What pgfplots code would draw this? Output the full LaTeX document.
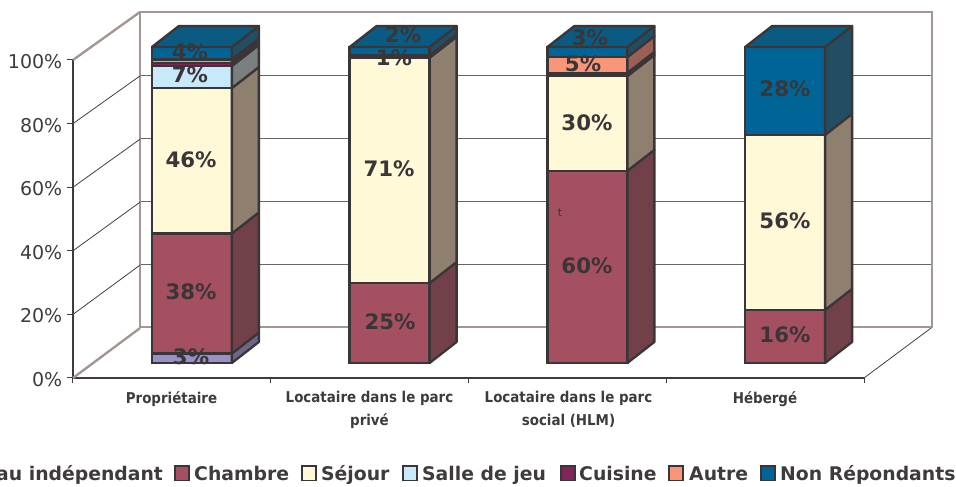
\documentclass[border=0pt]{standalone}
\usepackage{pgfplots}
\pgfplotsset{compat=1.18}
\usepackage{pgfplotstable}
\usepackage{fontspec}
\setmainfont{DejaVu Sans}
\newfontfamily\cond{DejaVu Sans Condensed}
\definecolor{ln}{HTML}{3A3638}
\definecolor{wall}{HTML}{A39793}
\definecolor{tk}{HTML}{3F3B3D}
\definecolor{cB}{HTML}{9A90C8}\definecolor{sB}{HTML}{6E6688}
\definecolor{cC}{HTML}{A55060}\definecolor{sC}{HTML}{724049}
\definecolor{cS}{HTML}{FFF9D8}\definecolor{sS}{HTML}{8F7F6E}
\definecolor{cJ}{HTML}{C8E9FA}\definecolor{sJ}{HTML}{7A7F7F}
\definecolor{cK}{HTML}{82245A}\definecolor{sK}{HTML}{5A2A48}
\definecolor{cA}{HTML}{FA9678}\definecolor{sA}{HTML}{9A6055}
\definecolor{cN}{HTML}{006496}\definecolor{sN}{HTML}{224E64}\definecolor{tN}{HTML}{0A5A82}
\pgfplotstableread{
x    bureau chambre sejour salle cuisine autre nr
0.5  3      38      46     7     1       1     4
1.5  0      25.3    71.3   0.7   0       0     2.7
2.5  0      60.8    30     0.5   0.5     5     3.2
3.5  0      16.8    55.4   0     0       0     27.8
}\bardata
% side face: category centre, lower and upper cumulative %, colour
\newcommand{\side}[4]{%
 \pgfmathsetmacro{\xa}{#1+0.2022}\pgfmathsetmacro{\xb}{#1+0.3387}%
 \pgfmathsetmacro{\ya}{#2+6.65}\pgfmathsetmacro{\yb}{#3+6.65}%
 \edef\temp{\noexpand\addplot[fill=#4,draw=ln,line width=2.3pt,line join=round] coordinates {(\xa,#2)(\xb,\ya)(\xb,\yb)(\xa,#3)(\xa,#2)};}\temp}
\newcommand{\topface}[1]{%
 \pgfmathsetmacro{\xa}{#1-0.2022}\pgfmathsetmacro{\xb}{#1-0.0657}\pgfmathsetmacro{\xc}{#1+0.3387}\pgfmathsetmacro{\xd}{#1+0.2022}%
 \edef\temp{\noexpand\addplot[fill=tN,draw=ln,line width=2.3pt,line join=round] coordinates {(\xa,100)(\xb,106.65)(\xc,106.65)(\xd,100)(\xa,100)};}\temp}
\newcommand{\dl}[3]{\node[font=\bfseries\fontsize{21.3}{24}\selectfont,text=ln,inner sep=0pt] at (axis cs:#1,#2) {#3\%};}
\begin{document}
\begin{tikzpicture}[x=1pt,y=1pt]
\useasboundingbox (0,0) rectangle (956,487);
\clip (0,0) rectangle (956,487);
% back wall
\begin{axis}[at={(140pt,160pt)},anchor=south west,scale only axis,width=792pt,height=315pt,
 xmin=0,xmax=4,ymin=0,ymax=100,xtick=\empty,ytick={20,40,60,80},ymajorgrids,
 major tick length=0pt,yticklabels={},
 grid style={draw=black!60,line width=0.8pt},
 axis line style={draw=wall,line width=2.4pt}]
\addplot[draw=none] coordinates {(0,0)(4,100)};
\end{axis}
% front plane: axes, ticks and oblique lines
\begin{axis}[at={(73pt,109pt)},anchor=south west,scale only axis,width=791pt,height=318pt,
 xmin=0,xmax=4,ymin=0,ymax=100,clip=false,
 axis lines=left,axis line style={draw=tk,line width=1.2pt,-},
 tick style={draw=tk,line width=1pt},
 ytick={0,20,40,60,80,100},
 yticklabel={\pgfmathprintnumber{\tick}\%},
 /pgf/number format/assume math mode=true,
 yticklabel style={font=\fontsize{19}{22}\selectfont\color{tk},inner sep=0pt,xshift=-5pt,yshift=-1.5pt},
 xtick={0,1,2,3,4},xticklabels={},
 tick align=outside,major tick length=5.5pt]
\addplot[draw=wall,line width=2.4pt] coordinates {(0,100)(0.339,115.1)};
\addplot[draw=wall,line width=2.4pt] coordinates {(0,0)(0.339,15.7)};
\addplot[draw=black!75,line width=0.8pt] coordinates {(0,20)(0.339,35.5)};
\addplot[draw=black!75,line width=0.8pt] coordinates {(0,40)(0.339,55.3)};
\addplot[draw=black!75,line width=0.8pt] coordinates {(0,60)(0.339,75.1)};
\addplot[draw=black!75,line width=0.8pt] coordinates {(0,80)(0.339,95)};
\addplot[draw=black!75,line width=0.8pt] coordinates {(4,0)(4.339,15.7)};
\end{axis}
% bars
\begin{axis}[at={(93pt,124pt)},anchor=south west,scale only axis,width=791pt,height=316pt,
 xmin=0,xmax=4,ymin=0,ymax=100,clip=false,hide axis,
 ybar stacked,bar width=80pt]
\addplot[fill=cB,draw=ln,line width=2.3pt] table[x=x,y=bureau]{\bardata};
\addplot[fill=cC,draw=ln,line width=2.3pt] table[x=x,y=chambre]{\bardata};
\addplot[fill=cS,draw=ln,line width=2.3pt] table[x=x,y=sejour]{\bardata};
\addplot[fill=cJ,draw=ln,line width=2.3pt] table[x=x,y=salle]{\bardata};
\addplot[fill=cK,draw=ln,line width=2.3pt] table[x=x,y=cuisine]{\bardata};
\addplot[fill=cA,draw=ln,line width=2.3pt] table[x=x,y=autre]{\bardata};
\addplot[fill=cN,draw=ln,line width=2.3pt] table[x=x,y=nr]{\bardata};
\end{axis}
% side and top faces, data labels
\begin{axis}[at={(93pt,124pt)},anchor=south west,scale only axis,width=791pt,height=316pt,
 xmin=0,xmax=4,ymin=0,ymax=100,clip=false,hide axis]
\side{0.5}{0}{3}{sB}\side{0.5}{3}{41}{sC}\side{0.5}{41}{87}{sS}\side{0.5}{87}{94}{sJ}\side{0.5}{94}{95}{sK}\side{0.5}{95}{96}{sA}\side{0.5}{96}{100}{sN}
\side{1.5}{0}{25.3}{sC}\side{1.5}{25.3}{96.6}{sS}\side{1.5}{96.6}{97.3}{sJ}\side{1.5}{97.3}{100}{sN}
\side{2.5}{0}{60.8}{sC}\side{2.5}{60.8}{90.8}{sS}\side{2.5}{90.8}{91.3}{sJ}\side{2.5}{91.3}{91.8}{sK}\side{2.5}{91.8}{96.8}{sA}\side{2.5}{96.8}{100}{sN}
\side{3.5}{0}{16.8}{sC}\side{3.5}{16.8}{72.2}{sS}\side{3.5}{72.2}{100}{sN}
\topface{0.5}\topface{1.5}\topface{2.5}\topface{3.5}
\dl{0.4956}{1.9}{3}
\dl{0.4956}{22.5}{38}
\dl{0.4956}{64.2}{46}
\dl{0.4905}{91.1}{7}
\dl{0.4905}{98.4}{4}
\dl{1.502}{13}{25}
\dl{1.497}{61.4}{71}
\dl{1.522}{96.5}{1}
\dl{1.568}{103.8}{2}
\dl{2.498}{30.7}{60}
\dl{2.498}{75.9}{30}
\dl{2.478}{94.6}{5}
\dl{2.513}{102.8}{3}
\dl{3.499}{8.9}{16}
\dl{3.499}{44.9}{56}
\dl{3.499}{86.7}{28}
\node[font=\fontsize{11}{12}\selectfont,text=ln,inner sep=0pt] at (axis cs:2.362,47.5) {t};
\end{axis}
% category labels
\begin{scope}[every node/.style={font=\cond\bfseries\fontsize{14.9}{23}\selectfont,text=tk,align=center,anchor=north,inner sep=0pt}]
\node at (171.5,96) {Propriétaire};
\node at (369.5,96) {Locataire dans le parc\\privé};
\node at (568.5,96) {Locataire dans le parc\\social (HLM)};
\node at (765,96) {Hébergé};
\end{scope}
% legend
\begin{scope}[every node/.style={font=\bfseries\fontsize{18.8}{22}\selectfont,text=tk,anchor=base west,inner sep=0pt}]
\node at (-4,6) {au indépendant};
\draw[ln,line width=1.6pt,fill=cC] (175,6.5) rectangle (189,21);
\node at (194,6) {Chambre};
\draw[ln,line width=1.6pt,fill=cS] (302,6.5) rectangle (316,21);
\node at (321,6) {Séjour};
\draw[ln,line width=1.6pt,fill=cJ] (403,6.5) rectangle (417,21);
\node at (422,6) {Salle de jeu};
\draw[ln,line width=1.6pt,fill=cK] (561,6.5) rectangle (575,21);
\node at (579,6) {Cuisine};
\draw[ln,line width=1.6pt,fill=cA] (669,6.5) rectangle (683,21);
\node at (689,6) {Autre};
\draw[ln,line width=1.6pt,fill=cN] (761,6.5) rectangle (775,21);
\node at (780,6) {Non Répondants};
\end{scope}
\end{tikzpicture}
\end{document}
